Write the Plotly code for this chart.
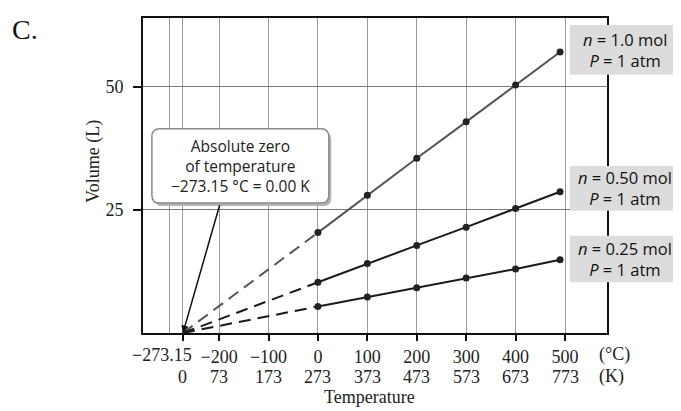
import plotly.graph_objects as go

# ---- data ----
abs_zero_c = -273.15
temps_c = [0, 100, 200, 300, 400, 490]
vol_n100 = [20.4, 28.0, 35.5, 42.9, 50.4, 57.1]
vol_n050 = [10.3, 14.1, 17.8, 21.5, 25.3, 28.7]
vol_n025 = [5.4, 7.3, 9.2, 11.2, 13.0, 14.9]
x_tickvals = [-273.15, -200, -100, 0, 100, 200, 300, 400, 500]
x_tick_c = ["\u2212273.15", "\u2212200", "\u2212100", "0", "100", "200", "300", "400", "500"]
x_tick_k = ["0", "73", "173", "273", "373", "473", "573", "673", "773"]
y_tickvals = [25, 50]
series_labels = ["<i>n</i> = 1.0 mol<br><i>P</i> = 1 atm",
                 "<i>n</i> = 0.50 mol<br><i>P</i> = 1 atm",
                 "<i>n</i> = 0.25 mol<br><i>P</i> = 1 atm"]
callout_text = "Absolute zero<br>of temperature<br>\u2212273.15 \u00b0C = 0.00 K"
series_vals = [vol_n100, vol_n050, vol_n025]
series_colors = ["#555555", "#1a1a1a", "#1a1a1a"]

SERIF = "Liberation Serif, Times New Roman, serif"
SANS = "Open Sans, Liberation Sans, sans-serif"

fig = go.Figure()

for vals, col in zip(series_vals, series_colors):
    # extrapolated dashed part back to absolute zero
    fig.add_trace(go.Scatter(x=[abs_zero_c, temps_c[0]], y=[0, vals[0]], mode="lines",
                             line=dict(color=col, width=2, dash="12px,7px"),
                             showlegend=False, hoverinfo="skip"))
    fig.add_trace(go.Scatter(x=temps_c, y=vals, mode="lines+markers",
                             line=dict(color=col, width=2),
                             marker=dict(color="#222222", size=7),
                             showlegend=False))

# rounded callout box (data coords)
x0, x1, y0, y1 = -336, 22, 26.4, 41.5
rx, ry = 16, 1.6
def rpath(dx=0.0, dy=0.0):
    a0, a1, b0, b1 = x0 + dx, x1 + dx, y0 + dy, y1 + dy
    return (f"M {a0+rx},{b1} L {a1-rx},{b1} Q {a1},{b1} {a1},{b1-ry} "
            f"L {a1},{b0+ry} Q {a1},{b0} {a1-rx},{b0} L {a0+rx},{b0} "
            f"Q {a0},{b0} {a0},{b0+ry} L {a0},{b1-ry} Q {a0},{b1} {a0+rx},{b1} Z")
fig.add_shape(type="path", path=rpath(5, -0.6), fillcolor="#b5b5b5",
              line=dict(width=0), layer="above")
fig.add_shape(type="path", path=rpath(), fillcolor="white",
              line=dict(color="#8a8a8a", width=1.5), layer="above")
fig.add_annotation(x=(x0 + x1) / 2, y=(y0 + y1) / 2, xref="x", yref="y",
                   text=callout_text, showarrow=False,
                   xanchor="center", yanchor="middle",
                   font=dict(family=SANS, size=15.5, color="#222"))
# pointer to absolute zero
fig.add_annotation(x=abs_zero_c, y=0, xref="x", yref="y", ax=-198, ay=26.3,
                   axref="x", ayref="y", text="", showarrow=True,
                   arrowhead=2, arrowsize=1, arrowwidth=1.5, arrowcolor="#111")

# right-side series labels (gray boxes)
box_ranges = [(0.820, 0.978), (0.388, 0.530), (0.161, 0.309)]
for (b0, b1), txt in zip(box_ranges, series_labels):
    fig.add_shape(type="rect", xref="paper", yref="paper", x0=0.920, x1=1.157,
                  y0=b0, y1=b1, fillcolor="#dcdcdc", line=dict(width=0), layer="above")
    fig.add_annotation(x=(0.920 + 1.157) / 2, y=(b0 + b1) / 2, xref="paper",
                       yref="paper", text=txt, showarrow=False, align="center",
                       xanchor="center", yanchor="middle",
                       font=dict(family=SANS, size=16.5, color="#111"))

# tick label for absolute zero (offset left like the original)
fig.add_annotation(x=abs_zero_c, y=-0.069, xref="x", yref="paper", text=x_tick_c[0],
                   xanchor="right", xshift=11, yanchor="middle", showarrow=False,
                   font=dict(family=SERIF, size=18, color="#222"))
# Kelvin row & units
for xv, kt in zip(x_tickvals, x_tick_k):
    fig.add_annotation(x=xv, y=-0.139, xref="x", yref="paper", text=kt,
                       showarrow=False, xanchor="center", yanchor="middle",
                       font=dict(family=SERIF, size=18, color="#222"))
fig.add_annotation(x=0.978, y=-0.069, xref="paper", yref="paper", text="(\u00b0C)",
                   xanchor="left", yanchor="middle", showarrow=False,
                   font=dict(family=SERIF, size=18, color="#222"))
fig.add_annotation(x=0.978, y=-0.139, xref="paper", yref="paper", text="(K)",
                   xanchor="left", yanchor="middle", showarrow=False,
                   font=dict(family=SERIF, size=18, color="#222"))
# axis titles
fig.add_annotation(x=0.489, y=-0.202, xref="paper", yref="paper", text="Temperature",
                   showarrow=False, xanchor="center", yanchor="middle",
                   font=dict(family=SERIF, size=18, color="#222"))
fig.add_annotation(x=-0.108, y=0.546, xref="paper", yref="paper", text="Volume (L)",
                   showarrow=False, textangle=-90, xanchor="center", yanchor="middle",
                   font=dict(family=SERIF, size=18, color="#222"))
fig.add_annotation(x=-0.254, y=0.962, xref="paper", yref="paper", text="C.",
                   showarrow=False, xanchor="center", yanchor="middle",
                   font=dict(family=SERIF, size=28, color="#111"))

fig.update_layout(
    width=673, height=403,
    margin=dict(l=135, r=74, t=8, b=78),
    paper_bgcolor="white", plot_bgcolor="white",
    showlegend=False,
    xaxis=dict(range=[-354, 585], tickvals=x_tickvals, ticktext=[""] + x_tick_c[1:],
               tickangle=0,
               showgrid=True, gridcolor="#9a9a9a", gridwidth=1,
               zeroline=False, showline=True, linecolor="#111", linewidth=2,
               mirror=True, ticks="outside", ticklen=6, tickwidth=1.5,
               tickcolor="#111", tickfont=dict(family=SERIF, size=18, color="#222"),
               minor=dict(tickvals=[-300], showgrid=True, gridcolor="#9a9a9a",
                          gridwidth=1, ticks="")),
    yaxis=dict(range=[0, 64], tickvals=y_tickvals, showgrid=True,
               gridcolor="#777777", gridwidth=1, zeroline=False, showline=True,
               linecolor="#111", linewidth=2, mirror=True, ticks="outside",
               ticklen=8, tickwidth=1.5, tickcolor="#111", ticklabelstandoff=6,
               tickfont=dict(family=SERIF, size=18, color="#222")),
)

fig.write_html("out.html")
